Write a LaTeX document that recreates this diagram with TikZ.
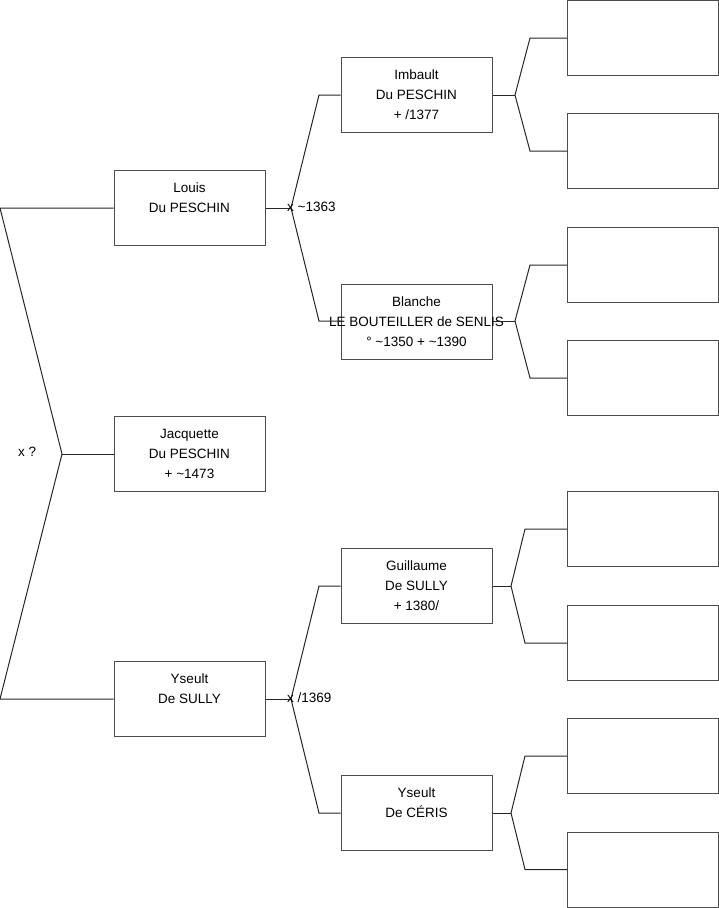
\documentclass[tikz,border=0pt]{standalone}
\usepackage{fontspec}
\setmainfont{Liberation Sans}
\begin{document}
\begin{tikzpicture}[x=1pt,y=-1pt,
  box/.style={draw=black!70, line width=1pt, minimum width=151pt, minimum height=75pt, inner sep=0pt, align=center, font=\fontsize{13.5}{20}\selectfont},
  conn/.style={draw=black!85, line width=1pt},
  lbl/.style={inner sep=0pt, font=\fontsize{13.5}{16}\selectfont}]
\useasboundingbox (0,0) rectangle (719,908);
% generation 1
\node[box] (louis) at (189.5,208) {Louis\\Du PESCHIN\\~};
\node[box] (jacq) at (189.5,454) {Jacquette\\Du PESCHIN\\+ \textasciitilde1473};
\node[box] (ysully) at (189.5,699) {Yseult\\De SULLY\\~};
% generation 2
\node[box] (imb) at (416.5,95) {Imbault\\Du PESCHIN\\+ /1377};
\node[box] (blan) at (416.5,321.5) {Blanche\\\makebox[0pt]{LE BOUTEILLER de SENLIS}\\° \textasciitilde1350 + \textasciitilde1390};
\node[box] (guil) at (416.5,586) {Guillaume\\De SULLY\\+ 1380/};
\node[box] (ceris) at (416.5,813) {Yseult\\De CÉRIS\\~};
% generation 3
\foreach \n/\y in {r1/38,r2/151,r3/265,r4/378,r5/529,r6/643,r7/756,r8/869.5}
  \node[box] (\n) at (643,\y) {};
% left bracket
\coordinate (lt) at (0,208);
\coordinate (lm) at (62,454);
\coordinate (lb) at (0,699);
\draw[conn] (louis.west) -- (lt) -- (lm) -- (lb) -- (ysully.west);
\draw[conn] (lm) -- (jacq.west);
\node[lbl, anchor=west] (mq) at (18,452) {x ?};
% Louis fork
\coordinate (f1) at (291,208);
\coordinate (f1a) at (319,95);
\coordinate (f1b) at (319,321);
\draw[conn] (louis.east) -- (f1);
\draw[conn] (imb.west) -- (f1a) -- (f1) -- (f1b) -- (blan.west |- f1b);
\node[lbl, anchor=west] (m1) at (287,207) {x \textasciitilde1363};
% Yseult fork
\coordinate (f2) at (291,699);
\coordinate (f2a) at (319,586);
\coordinate (f2b) at (319,813);
\draw[conn] (ysully.east) -- (f2);
\draw[conn] (guil.west) -- (f2a) -- (f2) -- (f2b) -- (ceris.west);
\node[lbl, anchor=west] (m2) at (287,698) {x /1369};
% Imbault fork
\coordinate (g1) at (515,95);
\coordinate (g1a) at (530,38);
\coordinate (g1b) at (530,151);
\draw[conn] (imb.east) -- (g1);
\draw[conn] (r1.west) -- (g1a) -- (g1) -- (g1b) -- (r2.west);
% Blanche fork
\coordinate (g2) at (515,321);
\coordinate (g2a) at (530,265);
\coordinate (g2b) at (530,378);
\draw[conn] (blan.east |- g2) -- (g2);
\draw[conn] (r3.west) -- (g2a) -- (g2) -- (g2b) -- (r4.west);
% Guillaume fork
\coordinate (g3) at (511,586);
\coordinate (g3a) at (525,529);
\coordinate (g3b) at (525,643);
\draw[conn] (guil.east) -- (g3);
\draw[conn] (r5.west) -- (g3a) -- (g3) -- (g3b) -- (r6.west);
% Ceris fork
\coordinate (g4) at (511,813);
\coordinate (g4a) at (525,756);
\coordinate (g4b) at (525,869.5);
\draw[conn] (ceris.east) -- (g4);
\draw[conn] (r7.west) -- (g4a) -- (g4) -- (g4b) -- (r8.west);
\end{tikzpicture}
\end{document}
